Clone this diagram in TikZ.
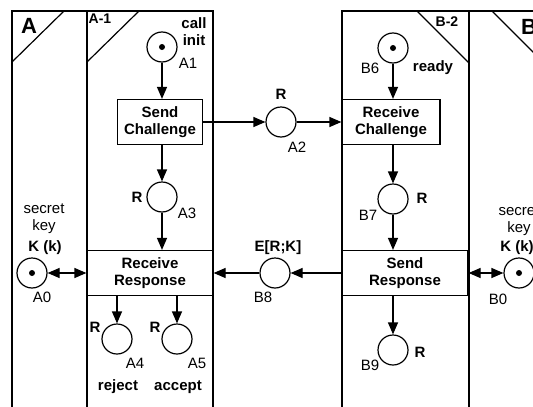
\documentclass[tikz,border=0pt]{standalone}
\usepackage{fontspec}
\setmainfont{Liberation Sans}
\usepackage{tikz}
\usetikzlibrary{arrows.meta}
\tikzset{
  place/.style={circle, draw, line width=1.2pt, minimum size=30pt, inner sep=0pt},
  marked/.style={place, path picture={\fill (path picture bounding box.center) circle (3pt);}},
  trans/.style={draw, line width=1.2pt, align=center, inner sep=0pt, minimum height=45pt,
    font=\fontsize{15}{17}\selectfont\bfseries},
  lbl/.style={inner sep=0pt, font=\fontsize{15}{17}\selectfont},
  blbl/.style={inner sep=0pt, font=\fontsize{15}{17}\selectfont\bfseries},
  arc/.style={line width=1.2pt, -{Triangle[length=12pt,width=10pt]}},
  biarc/.style={line width=1.2pt, {Triangle[length=12pt,width=10pt]}-{Triangle[length=12pt,width=10pt]}},
  panel/.style={line width=1.2pt},
}

\begin{document}
\begin{tikzpicture}[x=1pt, y=-1pt]
    \useasboundingbox (0,0) rectangle (533,407);
    \clip (0,0) rectangle (533,407);
    % panels
    \draw[panel] (12,410) |- (213,11) -- (213,410);
    \draw[panel] (87,11) -- (87,410);
    \draw[panel] (342,410) |- (544,11) -- (544,410);
    \draw[panel] (469,11) -- (469,410);
    \draw[panel] (12,62) -- (64,11);
    \draw[panel] (87,62) -- (139,11);
    \draw[panel] (417,11) -- (469,63);
    \draw[panel] (492,11) -- (544,63);
    \node[inner sep=0pt, font=\fontsize{22}{22}\selectfont\bfseries] (pA) at (29,26) {A};
    \node[inner sep=0pt, font=\fontsize{14}{14}\selectfont\bfseries] (pA1) at (100,19) {A-1};
    \node[inner sep=0pt, font=\fontsize{14}{14}\selectfont\bfseries] (pB2) at (447,22) {B-2};
    \node[inner sep=0pt, font=\fontsize{22}{22}\selectfont\bfseries] (pB) at (529,27) {B};

    % places and transitions
    \node[marked] (A1) at (162,47) {};
    \node[trans, minimum width=85pt] (SC) at (160,122) {Send\\Challenge};
    \node[place] (A2) at (281,122) {};
    \node[trans, minimum width=98pt] (RC) at (391,122) {Receive\\Challenge};
    \node[place] (A3) at (162,197) {};
    \node[marked] (B6) at (393,48) {};
    \node[place] (B7) at (393,199) {};
    \node[trans, minimum width=126pt] (RR) at (150,273) {Receive\\Response};
    \node[trans, minimum width=126pt] (SR) at (405,273) {Send\\Response};
    \node[marked] (A0) at (32,273) {};
    \node[place] (B8) at (275,273) {};
    \node[marked] (B0) at (519,273) {};
    \node[place] (A4) at (117,339) {};
    \node[place] (A5) at (177,339) {};
    \node[place] (B9) at (393,350) {};

    % arcs
    \draw[arc] (A1) -- (A1 |- SC.north);
    \draw[arc] (SC) -- (A2);
    \draw[arc] (A2) -- (RC);
    \draw[arc] (SC.south -| A3) -- (A3);
    \draw[arc] (A3) -- (A3 |- RR.north);
    \draw[arc] (B6) -- (B6 |- RC.north);
    \draw[arc] (RC.south -| B7) -- (B7);
    \draw[arc] (B7) -- (B7 |- SR.north);
    \draw[arc] (SR.south -| B9) -- (B9);
    \draw[arc] (RR.south -| A4) -- (A4);
    \draw[arc] (RR.south -| A5) -- (A5);
    \draw[biarc] (A0) -- (RR);
    \draw[arc] (SR) -- (B8);
    \draw[arc] (B8) -- (RR);
    \draw[biarc] (SR) -- (B0);

    % labels
    \node[blbl, align=center] (callinit) at (194,32) {call\\init};
    \node[lbl] (A1lab) at (188,63) {A1};
    \node[blbl] (A2r) at (281,94) {R};
    \node[lbl] (A2lab) at (297,147) {A2};
    \node[blbl] (A3r) at (137,197) {R};
    \node[lbl] (A3lab) at (187,213) {A3};
    \node[lbl, align=center] (A0key) at (44,219) {secret\\key};
    \node[blbl] (A0K) at (45,248) {K (k)};
    \node[lbl] (A0lab) at (42,297) {A0};
    \node[blbl] (A4r) at (95,327) {R};
    \node[lbl] (A4lab) at (135,363) {A4};
    \node[blbl] (A5r) at (155,327) {R};
    \node[lbl] (A5lab) at (197,363) {A5};
    \node[blbl] (rej) at (118,387) {reject};
    \node[blbl] (acc) at (178,387) {accept};
    \node[lbl] (B6lab) at (370,68) {B6};
    \node[blbl] (ready) at (433,68) {ready};
    \node[lbl] (B7lab) at (368,215) {B7};
    \node[blbl] (B7r) at (422,198) {R};
    \node[blbl] (B8e) at (278,248) {E[R;K]};
    \node[lbl] (B8lab) at (263,297) {B8};
    \node[lbl] (B9lab) at (370,365) {B9};
    \node[blbl] (B9r) at (420,352) {R};
    \node[lbl] (B0lab) at (498,299) {B0};
    \node[lbl, align=center] (B0key) at (519,221) {secret\\key};
    \node[blbl] (B0K) at (517,248) {K (k)};
\end{tikzpicture}
\end{document}
